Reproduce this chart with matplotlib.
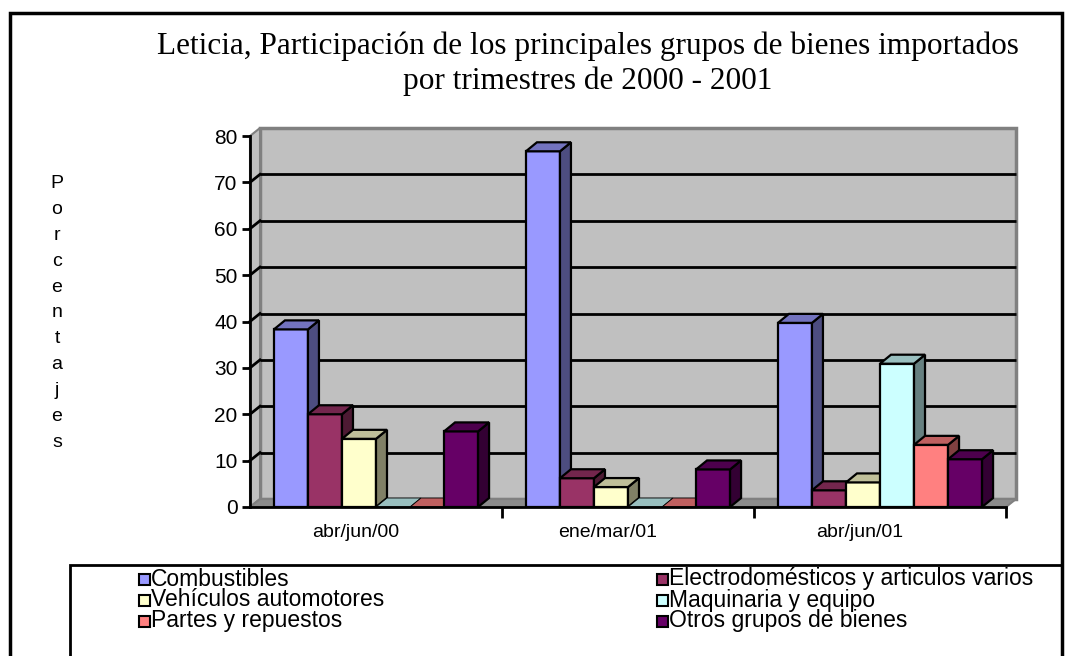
#!/usr/bin/env python3
"""Leticia: share of the main groups of imported goods, by quarter 2000-2001.

Old Excel-style 3D clustered columns, faked in 2D with matplotlib polygons.
"""
import matplotlib
matplotlib.use("Agg")
import matplotlib.pyplot as plt
from matplotlib.patches import Polygon, Rectangle
from matplotlib.colors import to_rgb

# ---- data ---------------------------------------------------------------
quarters = ["abr/jun/00", "ene/mar/01", "abr/jun/01"]
series = [
    "Combustibles",
    "Electrodomésticos y articulos varios",
    "Vehículos automotores",
    "Maquinaria y equipo",
    "Partes y repuestos",
    "Otros grupos de bienes",
]
combustibles = [38.3, 76.7, 39.7]
electrodomesticos = [20.0, 6.2, 3.6]
vehiculos = [14.7, 4.3, 5.3]
maquinaria = [0.0, 0.0, 30.9]
partes = [0.0, 0.0, 13.4]
otros = [16.3, 8.1, 10.3]
yticks = [0, 10, 20, 30, 40, 50, 60, 70, 80]

colors = ["#9999FF", "#993366", "#FFFFCC", "#CCFFFF", "#FF8080", "#660066"]

# ---- geometry (pixels of the 1079x656 canvas) ---------------------------
W, H = 1079, 656
AX_L, AX_R = 250, 1006      # front floor edge
AX_B, AX_T = 507, 136       # y=0 and y=80 on the front plane
WALL_DX, WALL_DY = 10, 8    # depth of walls
BAR_DX, BAR_DY = 11, 9      # depth of bars
BAR_W = 0.135
BAR_START = 0.095
LABEL_SHIFT = 20            # category labels sit a bit left of the group centre


def shade(c, f):
    r, g, b = to_rgb(c)
    return (r * f, g * f, b * f)


def main():
    plt.rcParams.update({"font.family": "Liberation Sans", "font.size": 14})
    fig = plt.figure(figsize=(W / 100, H / 100), dpi=100)

    ax = fig.add_axes([AX_L / W, 1 - AX_B / H,
                       (AX_R - AX_L) / W, (AX_B - AX_T) / H])
    ncat = len(quarters)
    ymax = yticks[-1]
    ax.set_xlim(0, ncat)
    ax.set_ylim(0, ymax)
    ax.patch.set_visible(False)

    # pixel -> data conversion
    px_x = ncat / (AX_R - AX_L)
    px_y = ymax / (AX_B - AX_T)
    wdx, wdy = WALL_DX * px_x, WALL_DY * px_y
    bdx, bdy = BAR_DX * px_x, BAR_DY * px_y

    # walls and floor
    ax.add_patch(Polygon([(wdx, wdy), (ncat + wdx, wdy), (ncat + wdx, ymax + wdy),
                          (wdx, ymax + wdy)], closed=True, fc="#C0C0C0",
                         ec="#808080", lw=2.5, clip_on=False, zorder=0))
    ax.add_patch(Polygon([(0, 0), (wdx, wdy), (wdx, ymax + wdy), (0, ymax)],
                         closed=True, fc="#C0C0C0", ec="#808080", lw=1.5,
                         clip_on=False, zorder=0))
    ax.add_patch(Polygon([(0, 0), (ncat, 0), (ncat + wdx, wdy), (wdx, wdy)],
                         closed=True, fc="#8C8C8C", ec="#808080", lw=1.5,
                         clip_on=False, zorder=0))
    for v in yticks[1:-1]:
        ax.plot([wdx, ncat + wdx], [v + wdy, v + wdy], color="black", lw=2,
                clip_on=False, zorder=1, solid_capstyle="butt")
        ax.plot([0, wdx], [v, v + wdy], color="black", lw=2,
                clip_on=False, zorder=1)

    # bars, left to right so each front face covers the previous side
    values = [combustibles, electrodomesticos, vehiculos, maquinaria, partes, otros]
    z = 2
    for g in range(ncat):
        for i, vals in enumerate(values):
            v = vals[g]
            x0 = g + BAR_START + i * BAR_W
            x1 = x0 + BAR_W
            c = colors[i]
            if v > 0:
                ax.bar(x0, v, width=BAR_W, align="edge", color=c,
                       edgecolor="black", lw=1.6, zorder=z)
                ax.add_patch(Polygon([(x1, 0), (x1 + bdx, bdy), (x1 + bdx, v + bdy),
                                      (x1, v)], closed=True, fc=shade(c, 0.5),
                                     ec="black", lw=1.6, zorder=z))
            ax.add_patch(Polygon([(x0, v), (x1, v), (x1 + bdx, v + bdy),
                                  (x0 + bdx, v + bdy)], closed=True,
                                 fc=shade(c, 0.75), ec="black",
                                 lw=1.6 if v > 0 else 0.6, zorder=z))
            z += 1

    # axes
    for s in ["top", "right"]:
        ax.spines[s].set_visible(False)
    for s in ["left", "bottom"]:
        ax.spines[s].set_linewidth(2)
        ax.spines[s].set_zorder(50)
    ax.set_yticks(yticks)
    ax.set_yticklabels([str(t) for t in yticks])
    ax.tick_params(axis="y", length=6, width=2, pad=3, labelsize=15)
    ax.set_xticks([g + 0.5 - LABEL_SHIFT * px_x for g in range(ncat)])
    ax.set_xticklabels(quarters)
    ax.tick_params(axis="x", which="major", length=0, pad=12, labelsize=14)
    ax.set_xticks(list(range(1, ncat + 1)), minor=True)
    ax.tick_params(axis="x", which="minor", length=8, width=2)

    # y label, one letter per line
    fig.text(57 / W, 1 - 313 / H, "\n".join("Porcentajes"), ha="center",
             va="center", fontsize=14, linespacing=1.68)

    # title
    fig.text(588 / W, 1 - 64 / H,
             "Leticia, Participación de los principales grupos de bienes importados\n"
             "por trimestres de 2000 - 2001",
             ha="center", va="center", family="Liberation Serif",
             fontsize=22.5, linespacing=1.25)

    # legend box (clipped at the bottom like the original)
    fig.add_artist(Rectangle((70 / W, -0.05), (1062 - 70) / W, 1 - 565 / H + 0.05,
                             transform=fig.transFigure, fill=False,
                             ec="black", lw=2))
    order = [(0, 139, 579), (1, 657, 579), (2, 139, 600),
             (3, 657, 600), (4, 139, 621), (5, 657, 621)]
    sq = 11
    for i, x, y in order:
        fig.add_artist(Rectangle((x / W, 1 - (y + sq / 2) / H), sq / W, sq / H,
                                 transform=fig.transFigure, fc=colors[i],
                                 ec="black", lw=1.5))
        fig.text((x + sq + 1) / W, 1 - y / H, series[i], ha="left",
                 va="center", fontsize=16.5)

    # outer chart border
    fig.add_artist(Rectangle((10 / W, -0.05), (1062 - 10) / W, 1 - 13 / H + 0.05,
                             transform=fig.transFigure, fill=False,
                             ec="black", lw=2.5))

    fig.savefig("out.png", dpi=100, facecolor="white")


if __name__ == "__main__":
    main()
